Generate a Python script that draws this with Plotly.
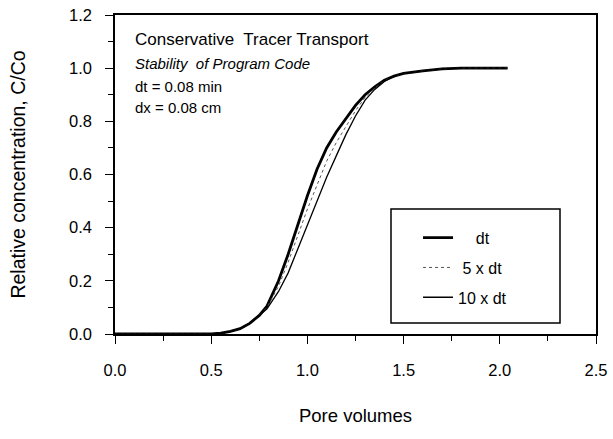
import plotly.graph_objects as go

# Pore volumes (x) and relative concentration C/Co (y) for each run
x_vals = [0.0, 0.5, 0.55, 0.6, 0.65, 0.7, 0.75, 0.79, 0.85, 0.9, 0.95, 1.0, 1.05, 1.1,
          1.15, 1.2, 1.25, 1.3, 1.35, 1.4, 1.45, 1.5, 1.6, 1.7, 1.8, 1.9, 2.04]
c_dt = [0.0, 0.0, 0.003, 0.01, 0.02, 0.04, 0.07, 0.105, 0.20, 0.30, 0.41, 0.52, 0.62, 0.70,
        0.76, 0.81, 0.86, 0.90, 0.93, 0.955, 0.97, 0.98, 0.99, 0.997, 1.0, 1.0, 1.0]
c_5dt = [0.0, 0.0, 0.003, 0.01, 0.02, 0.04, 0.07, 0.10, 0.18, 0.27, 0.37, 0.47, 0.56, 0.65,
         0.72, 0.78, 0.84, 0.89, 0.925, 0.952, 0.97, 0.98, 0.99, 0.997, 1.0, 1.0, 1.0]
c_10dt = [0.0, 0.0, 0.003, 0.01, 0.02, 0.04, 0.07, 0.095, 0.16, 0.23, 0.32, 0.41, 0.50, 0.59,
          0.67, 0.75, 0.82, 0.88, 0.92, 0.95, 0.97, 0.98, 0.99, 0.997, 1.0, 1.0, 1.0]

series_names = ["\u00a0\u00a0\u00a0\u00a0dt", "\u00a05 x dt", "10 x dt"]

x_ticks = [0.0, 0.5, 1.0, 1.5, 2.0, 2.5]
y_ticks = [0.0, 0.2, 0.4, 0.6, 0.8, 1.0, 1.2]

FONT = "Liberation Sans, Arial, Helvetica, sans-serif"

fig = go.Figure()
fig.add_trace(go.Scatter(x=x_vals, y=c_dt, mode="lines", name=series_names[0],
                         legendgroup="a", line=dict(color="black", width=2.8)))
fig.add_trace(go.Scatter(x=x_vals, y=c_5dt, mode="lines", name=series_names[1],
                         legendgroup="b", line=dict(color="#555555", width=1, dash="dot")))
fig.add_trace(go.Scatter(x=x_vals, y=c_10dt, mode="lines", name=series_names[2],
                         legendgroup="c", line=dict(color="black", width=1.3)))

fig.update_layout(
    width=613, height=439,
    margin=dict(l=115, r=17, t=15, b=105, autoexpand=False),
    paper_bgcolor="white", plot_bgcolor="white",
    font=dict(family=FONT, color="black", size=16),
    showlegend=True,
    legend=dict(x=0.63, y=0.355, xanchor="left", yanchor="top",
                bgcolor="rgba(0,0,0,0)", borderwidth=0,
                font=dict(size=16, family=FONT),
                traceorder="grouped", tracegroupgap=6),
    xaxis=dict(range=[0, 2.5], tickvals=x_ticks, ticktext=[f"{v:.1f}" for v in x_ticks],
               automargin=False,
               showgrid=False, zeroline=False, showline=True, linecolor="black", linewidth=1.5,
               mirror=True, ticks="outside", ticklen=8, tickwidth=1.2, tickcolor="black",
               minor=dict(dtick=0.25, ticks="outside", ticklen=5, tickwidth=1, tickcolor="black"),
               tickfont=dict(size=16.5), ticklabelstandoff=12,
               title=dict(text="Pore volumes", font=dict(size=18.5), standoff=32)),
    yaxis=dict(range=[0, 1.2], tickvals=y_ticks, ticktext=[f"{v:.1f}" for v in y_ticks],
               automargin=False,
               showgrid=False, zeroline=False, showline=True, linecolor="black", linewidth=1.5,
               mirror=True, ticks="outside", ticklen=8, tickwidth=1.2, tickcolor="black",
               minor=dict(dtick=0.1, ticks="outside", ticklen=5, tickwidth=1, tickcolor="black"),
               tickfont=dict(size=16.5), ticklabelstandoff=10,
               title=dict(text="Relative concentration, C/Co", font=dict(size=19.5), standoff=38)),
)

# legend frame
fig.add_shape(type="rect", xref="paper", yref="paper",
              x0=(391 - 115) / 481, x1=(560 - 115) / 481,
              y0=(334 - 323) / 319, y1=(334 - 209) / 319,
              line=dict(color="black", width=1.5), fillcolor="rgba(0,0,0,0)")

notes = [
    ("Conservative  Tracer Transport", 40, 17, "normal"),
    ("Stability  of Program Code", 63, 15, "italic"),
    ("dt = 0.08 min", 87, 15, "normal"),
    ("dx = 0.08 cm", 108, 15, "normal"),
]
for text, py, size, style in notes:
    fig.add_annotation(xref="paper", yref="paper", x=(133 - 115) / 481, y=(334 - py) / 319,
                       xanchor="left", yanchor="middle", showarrow=False, text=text,
                       font=dict(size=size, family=FONT, style=style, color="black"))

fig.write_html("out.html", config={"displayModeBar": False},
               post_script="document.body.style.margin='0';")
